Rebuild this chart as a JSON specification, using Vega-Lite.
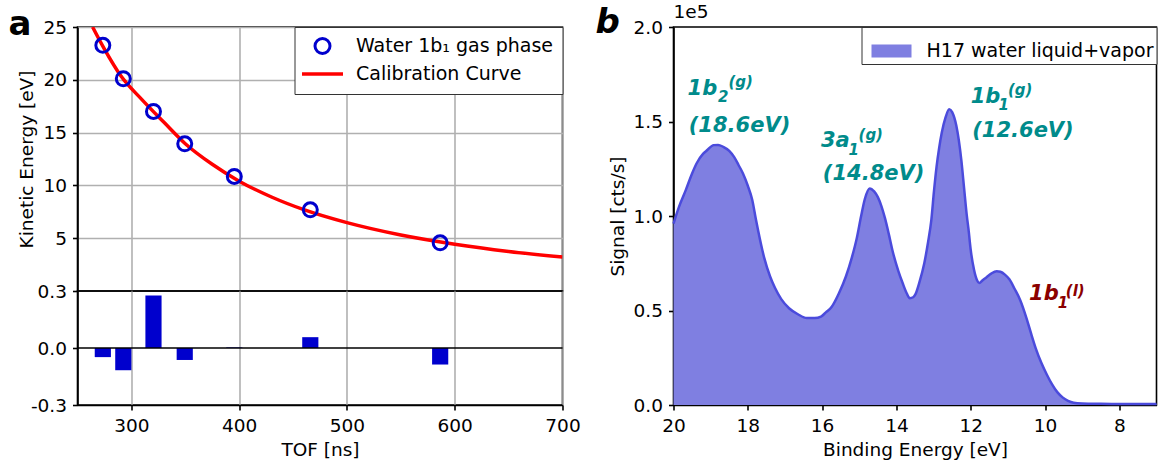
{
  "$schema": "https://vega.github.io/schema/vega-lite/v6.json",
  "background": "white",
  "padding": {"left": 7.5, "top": 2, "right": 2, "bottom": 2},
  "config": {
    "font": "DejaVu Sans",
    "view": {"stroke": "#000", "strokeWidth": 1.6},
    "axis": {
      "labelFont": "DejaVu Sans", "labelFontSize": 18.5, "labelColor": "#000",
      "titleFont": "DejaVu Sans", "titleFontSize": 18.5, "titleFontWeight": "normal", "titleColor": "#000",
      "tickColor": "#000", "tickSize": 5, "tickWidth": 1.6,
      "domainColor": "#000", "domainWidth": 1.6,
      "gridColor": "#b0b0b0", "gridWidth": 1.6,
      "labelPadding": 6, "titlePadding": 6,
      "labelFlush": false, "labelOverlap": false
    },
    "legend": {"labelFont": "DejaVu Sans", "labelFontSize": 19, "labelColor": "#000", "labelLimit": 400}
  },
  "datasets": {
    "pts": [
      {"tof": 273.5, "ke": 23.27},
      {"tof": 292.5, "ke": 20.1},
      {"tof": 320.5, "ke": 17.0},
      {"tof": 349.5, "ke": 13.94},
      {"tof": 395.5, "ke": 10.85},
      {"tof": 466.0, "ke": 7.69},
      {"tof": 586.5, "ke": 4.56}
    ],
    "curve": [
      {"tof": 264, "ke": 25.0},
      {"tof": 275, "ke": 22.9},
      {"tof": 290, "ke": 20.4},
      {"tof": 310, "ke": 18.1},
      {"tof": 330, "ke": 16.0},
      {"tof": 350, "ke": 13.95},
      {"tof": 375, "ke": 12.0},
      {"tof": 400, "ke": 10.4},
      {"tof": 430, "ke": 8.9},
      {"tof": 460, "ke": 7.7},
      {"tof": 500, "ke": 6.47},
      {"tof": 550, "ke": 5.3},
      {"tof": 600, "ke": 4.43},
      {"tof": 650, "ke": 3.75},
      {"tof": 700, "ke": 3.22}
    ],
    "resid": [
      {"lo": 266.0, "hi": 281.0, "res": -0.048},
      {"lo": 285.0, "hi": 300.0, "res": -0.117},
      {"lo": 313.0, "hi": 328.0, "res": 0.276},
      {"lo": 342.0, "hi": 357.0, "res": -0.063},
      {"lo": 388.0, "hi": 403.0, "res": 0.003},
      {"lo": 458.5, "hi": 473.5, "res": 0.057},
      {"lo": 579.0, "hi": 594.0, "res": -0.087}
    ],
    "spec": [
      {"be": 20.0, "sig": 0.96},
      {"be": 19.85, "sig": 1.05},
      {"be": 19.67, "sig": 1.137},
      {"be": 19.5, "sig": 1.225},
      {"be": 19.38, "sig": 1.278},
      {"be": 19.2, "sig": 1.33},
      {"be": 19.09, "sig": 1.349},
      {"be": 18.92, "sig": 1.375},
      {"be": 18.8, "sig": 1.376},
      {"be": 18.66, "sig": 1.366},
      {"be": 18.5, "sig": 1.345},
      {"be": 18.37, "sig": 1.313},
      {"be": 18.25, "sig": 1.27},
      {"be": 18.13, "sig": 1.225},
      {"be": 18.0, "sig": 1.16},
      {"be": 17.88, "sig": 1.085},
      {"be": 17.78, "sig": 0.98},
      {"be": 17.56, "sig": 0.78},
      {"be": 17.4, "sig": 0.68},
      {"be": 17.27, "sig": 0.62},
      {"be": 17.1, "sig": 0.56},
      {"be": 16.89, "sig": 0.512},
      {"be": 16.65, "sig": 0.48},
      {"be": 16.41, "sig": 0.46},
      {"be": 16.2, "sig": 0.46},
      {"be": 16.03, "sig": 0.468},
      {"be": 15.9, "sig": 0.49},
      {"be": 15.74, "sig": 0.52},
      {"be": 15.55, "sig": 0.59},
      {"be": 15.36, "sig": 0.68},
      {"be": 15.2, "sig": 0.78},
      {"be": 15.07, "sig": 0.88},
      {"be": 14.95, "sig": 1.0},
      {"be": 14.85, "sig": 1.09},
      {"be": 14.72, "sig": 1.146},
      {"be": 14.6, "sig": 1.13},
      {"be": 14.5, "sig": 1.1},
      {"be": 14.4, "sig": 1.05},
      {"be": 14.31, "sig": 0.99},
      {"be": 14.2, "sig": 0.9},
      {"be": 14.11, "sig": 0.82},
      {"be": 13.95, "sig": 0.71},
      {"be": 13.83, "sig": 0.644},
      {"be": 13.72, "sig": 0.59},
      {"be": 13.64, "sig": 0.565},
      {"be": 13.55, "sig": 0.57},
      {"be": 13.49, "sig": 0.585},
      {"be": 13.38, "sig": 0.65},
      {"be": 13.25, "sig": 0.75},
      {"be": 13.15, "sig": 0.86},
      {"be": 13.06, "sig": 0.98},
      {"be": 12.99, "sig": 1.13},
      {"be": 12.92, "sig": 1.26},
      {"be": 12.85, "sig": 1.36},
      {"be": 12.78, "sig": 1.44},
      {"be": 12.68, "sig": 1.52},
      {"be": 12.58, "sig": 1.565},
      {"be": 12.5, "sig": 1.55},
      {"be": 12.39, "sig": 1.48},
      {"be": 12.32, "sig": 1.4},
      {"be": 12.25, "sig": 1.29},
      {"be": 12.18, "sig": 1.15},
      {"be": 12.11, "sig": 1.01},
      {"be": 12.06, "sig": 0.93},
      {"be": 12.0, "sig": 0.82},
      {"be": 11.91, "sig": 0.714},
      {"be": 11.83, "sig": 0.66},
      {"be": 11.77, "sig": 0.645},
      {"be": 11.68, "sig": 0.66},
      {"be": 11.58, "sig": 0.675},
      {"be": 11.45, "sig": 0.695},
      {"be": 11.3, "sig": 0.708},
      {"be": 11.2, "sig": 0.705},
      {"be": 11.08, "sig": 0.69},
      {"be": 10.96, "sig": 0.665},
      {"be": 10.82, "sig": 0.615},
      {"be": 10.67, "sig": 0.556},
      {"be": 10.5, "sig": 0.46},
      {"be": 10.38, "sig": 0.381},
      {"be": 10.25, "sig": 0.3},
      {"be": 10.1, "sig": 0.223},
      {"be": 9.95, "sig": 0.16},
      {"be": 9.81, "sig": 0.109},
      {"be": 9.67, "sig": 0.068},
      {"be": 9.52, "sig": 0.039},
      {"be": 9.38, "sig": 0.022},
      {"be": 9.23, "sig": 0.012},
      {"be": 9.0, "sig": 0.008},
      {"be": 8.5, "sig": 0.006},
      {"be": 8.0, "sig": 0.005},
      {"be": 7.5, "sig": 0.005},
      {"be": 7.0, "sig": 0.005}
    ],
    "ann_main": [
      {"be": 19.62, "sig": 1.64, "txt": "1b", "ph": "g"},
      {"be": 19.59, "sig": 1.444, "txt": "(18.6eV)", "ph": "g"},
      {"be": 16.03, "sig": 1.367, "txt": "3a", "ph": "g"},
      {"be": 15.98, "sig": 1.19, "txt": "(14.8eV)", "ph": "g"},
      {"be": 12.0, "sig": 1.596, "txt": "1b", "ph": "g"},
      {"be": 11.96, "sig": 1.42, "txt": "(12.6eV)", "ph": "g"},
      {"be": 10.43, "sig": 0.556, "txt": "1b", "ph": "l"}
    ],
    "ann_sub": [
      {"be": 18.8, "sig": 1.605, "txt": "2", "ph": "g"},
      {"be": 15.29, "sig": 1.323, "txt": "1", "ph": "g"},
      {"be": 11.25, "sig": 1.561, "txt": "1", "ph": "g"},
      {"be": 9.66, "sig": 0.513, "txt": "1", "ph": "l"}
    ],
    "ann_sup": [
      {"be": 18.52, "sig": 1.68, "txt": "(g)", "ph": "g"},
      {"be": 15.02, "sig": 1.4, "txt": "(g)", "ph": "g"},
      {"be": 11.0, "sig": 1.64, "txt": "(g)", "ph": "g"},
      {"be": 9.44, "sig": 0.577, "txt": "(l)", "ph": "l"}
    ],
    "lab_a": [{"tof": 186, "ke": 24.24, "t": "a"}],
    "lab_b": [{"be": 22.1, "sig": 1.966, "t": "b"}],
    "one": [{"t": "1e5"}]
  },
  "spacing": 13,
  "resolve": {"scale": {"color": "independent"}, "legend": {"color": "independent"}},
  "hconcat": [
    {
      "bounds": "flush",
      "spacing": 0,
      "resolve": {"scale": {"color": "independent"}, "legend": {"color": "independent"}},
      "vconcat": [
        {
          "width": 485,
          "height": 264,
          "layer": [
            {
              "data": {"name": "curve"},
              "mark": {"type": "line", "color": "red", "strokeWidth": 3.5, "clip": true, "interpolate": "monotone"},
              "encoding": {
                "x": {"field": "tof", "type": "quantitative", "scale": {"domain": [250, 700], "nice": false},
                      "axis": {"values": [300, 400, 500, 600, 700], "grid": true, "labels": false, "ticks": false, "domain": false, "title": null}},
                "y": {"field": "ke", "type": "quantitative", "scale": {"domain": [0, 25], "nice": false},
                      "axis": {"values": [5, 10, 15, 20, 25], "grid": true, "title": "Kinetic Energy [eV]"}},
                "color": {"datum": "Calibration Curve", "type": "nominal",
                  "scale": {"domain": ["Water 1b₁ gas phase", "Calibration Curve"], "range": ["#0000cd", "red"]},
                  "legend": {
                    "title": null, "orient": "top-right", "offset": 0,
                    "strokeColor": "#333", "fillColor": "white", "padding": 9.5, "cornerRadius": 0,
                    "symbolSize": 1681, "symbolType": "circle", "symbolOffset": 9, "labelOffset": 24, "rowPadding": 5, "labelFontSize": 19,
                    "encode": {"symbols": {"update": {
                      "shape": {"signal": "datum.value === 'Calibration Curve' ? 'stroke' : 'circle'"},
                      "size": {"signal": "datum.value === 'Calibration Curve' ? 1681 : 225"},
                      "fill": {"value": "transparent"},
                      "stroke": {"signal": "datum.value === 'Calibration Curve' ? 'red' : '#0000cd'"},
                      "strokeWidth": {"signal": "datum.value === 'Calibration Curve' ? 3.5 : 3"},
                      "opacity": {"value": 1}
                    }}}
                  }}
              }
            },
            {
              "data": {"name": "pts"},
              "mark": {"type": "point", "filled": false, "strokeWidth": 3, "size": 196, "opacity": 1},
              "encoding": {
                "x": {"field": "tof", "type": "quantitative"},
                "y": {"field": "ke", "type": "quantitative"},
                "color": {"datum": "Water 1b₁ gas phase", "type": "nominal"}
              }
            },
            {
              "data": {"name": "lab_a"},
              "mark": {"type": "text", "align": "left", "baseline": "alphabetic", "fontSize": 34, "fontWeight": "bold", "color": "#000", "clip": false},
              "encoding": {
                "x": {"field": "tof", "type": "quantitative"},
                "y": {"field": "ke", "type": "quantitative"},
                "text": {"field": "t"}
              }
            }
          ]
        },
        {
          "width": 485,
          "height": 114,
          "layer": [
            {
              "data": {"name": "resid"},
              "mark": {"type": "bar", "color": "#0000cd"},
              "encoding": {
                "x": {"field": "lo", "type": "quantitative", "scale": {"domain": [250, 700], "nice": false},
                      "axis": {"values": [300, 400, 500, 600, 700], "grid": true, "title": "TOF [ns]"}},
                "x2": {"field": "hi"},
                "y": {"field": "res", "type": "quantitative", "scale": {"domain": [-0.3, 0.3], "nice": false},
                      "axis": {"values": [-0.3, 0, 0.3], "grid": false, "title": null, "labelExpr": "replace(format(datum.value, '.1f'), '−', '-')"}},
                "y2": {"datum": 0}
              }
            },
            {
              "data": {"values": [{}]},
              "mark": {"type": "rule", "color": "#000", "strokeWidth": 1.6},
              "encoding": {"y": {"datum": 0}}
            }
          ]
        }
      ]
    },
    {
      "width": 483,
      "height": 378,
      "resolve": {"scale": {"color": "independent", "fill": "independent"}},
      "layer": [
        {
          "data": {"name": "spec"},
          "mark": {"type": "area", "opacity": 1, "interpolate": "monotone"},
          "encoding": {
            "x": {"field": "be", "type": "quantitative", "scale": {"domain": [7, 20], "reverse": true, "nice": false},
                  "axis": {"values": [8, 10, 12, 14, 16, 18, 20], "grid": false, "title": "Binding Energy [eV]"}},
            "y": {"field": "sig", "type": "quantitative", "scale": {"domain": [0, 2], "nice": false},
                  "axis": {"values": [0, 0.5, 1, 1.5, 2], "format": ".1f", "grid": false, "title": "Signal [cts/s]"}},
            "color": {"datum": "H17 water liquid+vapor", "type": "nominal",
              "scale": {"domain": ["H17 water liquid+vapor"], "range": ["#7f7fe1"]},
              "legend": {
                "title": null, "orient": "top-right", "offset": 0,
                "strokeColor": "#333", "fillColor": "white", "padding": 3, "cornerRadius": 0,
                "symbolType": "M-1,-0.32H1V0.32H-1Z", "symbolSize": 1600, "symbolOffset": 6, "labelOffset": 14, "labelFontSize": 19,
                "encode": {"symbols": {"update": {
                  "fill": {"value": "#7f7fe1"},
                  "stroke": {"value": "#4b4bdc"},
                  "strokeWidth": {"value": 2.5},
                  "opacity": {"value": 1}
                }}}
              }}
          }
        },
        {
          "data": {"name": "spec"},
          "mark": {"type": "line", "color": "#4b4bdc", "strokeWidth": 2.5, "interpolate": "monotone"},
          "encoding": {
            "x": {"field": "be", "type": "quantitative"},
            "y": {"field": "sig", "type": "quantitative"}
          }
        },
        {
          "data": {"name": "ann_main"},
          "mark": {"type": "text", "align": "left", "baseline": "alphabetic", "fontSize": 21, "fontWeight": "bold", "fontStyle": "italic"},
          "encoding": {
            "x": {"field": "be", "type": "quantitative"},
            "y": {"field": "sig", "type": "quantitative"},
            "text": {"field": "txt"},
            "fill": {"field": "ph", "type": "nominal", "scale": {"domain": ["g", "l"], "range": ["#008b8b", "#8b0000"]}, "legend": null}
          }
        },
        {
          "data": {"name": "ann_sub"},
          "mark": {"type": "text", "align": "left", "baseline": "alphabetic", "fontSize": 15, "fontWeight": "bold", "fontStyle": "italic"},
          "encoding": {
            "x": {"field": "be", "type": "quantitative"},
            "y": {"field": "sig", "type": "quantitative"},
            "text": {"field": "txt"},
            "fill": {"field": "ph", "type": "nominal", "scale": {"domain": ["g", "l"], "range": ["#008b8b", "#8b0000"]}, "legend": null}
          }
        },
        {
          "data": {"name": "ann_sup"},
          "mark": {"type": "text", "align": "left", "baseline": "alphabetic", "fontSize": 15, "fontWeight": "bold", "fontStyle": "italic"},
          "encoding": {
            "x": {"field": "be", "type": "quantitative"},
            "y": {"field": "sig", "type": "quantitative"},
            "text": {"field": "txt"},
            "fill": {"field": "ph", "type": "nominal", "scale": {"domain": ["g", "l"], "range": ["#008b8b", "#8b0000"]}, "legend": null}
          }
        },
        {
          "data": {"name": "one"},
          "mark": {"type": "text", "align": "left", "baseline": "alphabetic", "fontSize": 18.5, "dy": -9, "color": "#000"},
          "encoding": {
            "x": {"datum": 20, "type": "quantitative"},
            "y": {"datum": 2, "type": "quantitative"},
            "text": {"field": "t"}
          }
        },
        {
          "data": {"name": "lab_b"},
          "mark": {"type": "text", "align": "left", "baseline": "alphabetic", "fontSize": 34, "fontWeight": "bold", "fontStyle": "italic", "color": "#000", "clip": false},
          "encoding": {
            "x": {"field": "be", "type": "quantitative"},
            "y": {"field": "sig", "type": "quantitative"},
            "text": {"field": "t"}
          }
        }
      ]
    }
  ]
}
